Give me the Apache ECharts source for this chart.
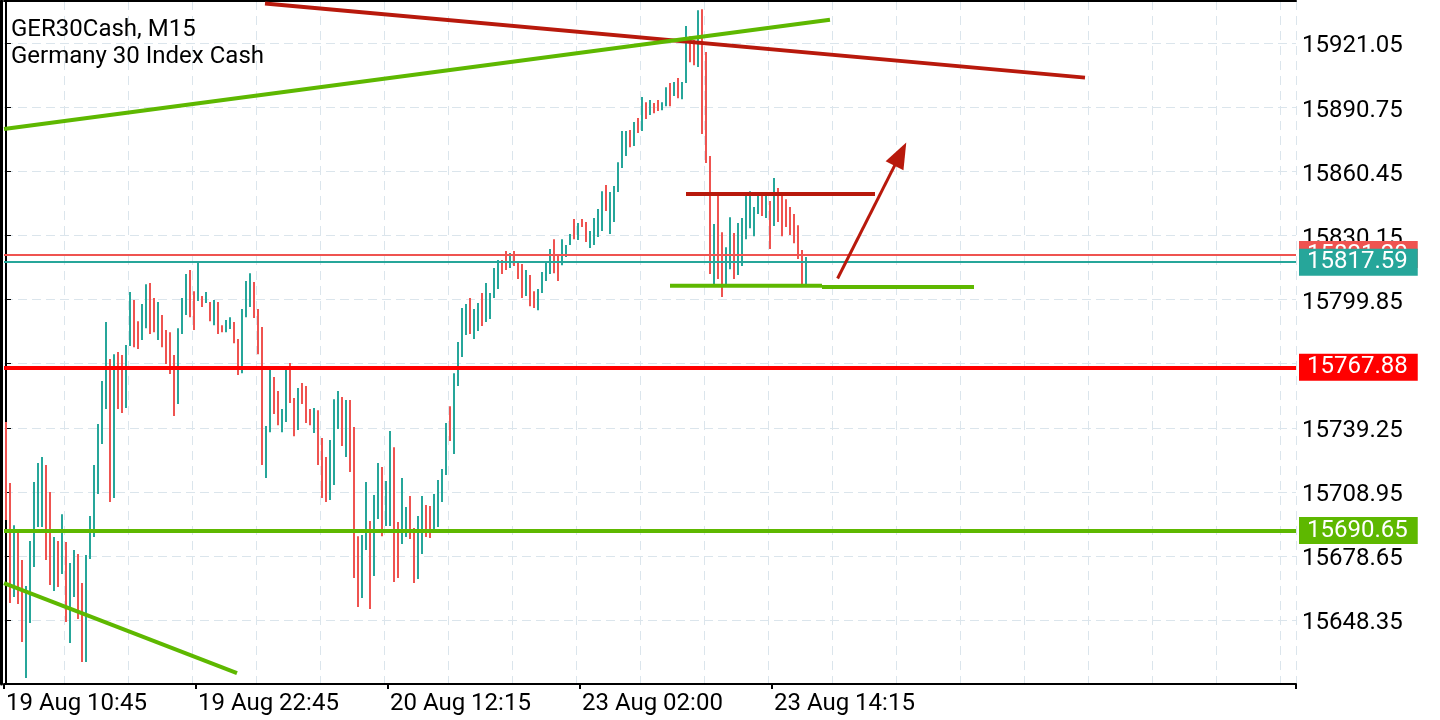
<!DOCTYPE html>
<html><head><meta charset="utf-8">
<script src="https://cdn.jsdelivr.net/npm/echarts@6/dist/echarts.min.js"></script>
<style>html,body{margin:0;padding:0;background:#fff}#c{width:1440px;height:720px}</style>
</head><body><div id="c"></div>
<script>
const symbolName = 'GER30Cash, M15';
const symbolDesc = 'Germany 30 Index Cash';
const xTickLabels = ['19 Aug 10:45', '19 Aug 22:45', '20 Aug 12:15', '23 Aug 02:00', '23 Aug 14:15'];
const barsPerLabel = 48;
const slotCount = 323;

const highs = [15742.0,15713.1,15693.2,15689.9,15676.7,15664.4,15685.7,15713.6,15722.6,15725.4,
15721.6,15708.9,15687.6,15685.7,15698.4,15685.2,15675.3,15681.4,15679.5,15665.8,
15679.1,15697.5,15721.6,15741.0,15761.4,15789.3,15771.8,15774.1,15775.1,15773.7,
15778.4,15803.5,15799.7,15789.7,15797.8,15807.2,15807.7,15800.6,15798.7,15792.6,
15785.5,15784.5,15773.7,15786.4,15800.6,15812.0,15813.9,15803.9,15817.2,15801.6,
15803.5,15798.7,15799.7,15798.7,15787.8,15790.2,15791.6,15789.3,15781.2,15795.4,
15808.7,15812.4,15808.2,15795.4,15786.9,15740.1,15767.0,15763.3,15756.6,15748.1,
15767.0,15769.9,15753.3,15758.1,15760.4,15759.0,15748.1,15748.6,15747.6,15734.4,
15725.4,15733.5,15752.8,15756.6,15753.8,15752.4,15752.4,15739.6,15688.0,15688.5,
15713.6,15695.1,15707.4,15722.6,15720.7,15714.1,15737.7,15730.1,15694.7,15715.5,
15701.8,15707.0,15691.8,15697.5,15707.0,15702.7,15702.2,15707.9,15714.5,15719.7,
15741.5,15749.5,15765.1,15779.8,15795.9,15797.8,15800.6,15795.4,15798.3,15803.0,
15807.7,15803.0,15814.8,15818.6,15818.6,15822.9,15821.9,15822.9,15817.6,15816.7,
15813.9,15811.5,15803.9,15804.9,15812.9,15817.2,15823.8,15828.5,15821.0,15828.5,
15825.7,15830.9,15838.0,15836.1,15838.0,15836.6,15832.3,15838.5,15842.7,15851.2,
15854.1,15850.8,15853.6,15864.9,15879.6,15879.6,15880.1,15883.9,15885.8,15895.7,
15893.3,15894.3,15892.9,15894.3,15893.3,15900.4,15902.3,15902.8,15904.7,15902.8,
15929.3,15924.5,15922.7,15936.8,15937.3,15917.0,15867.8,15835.6,15848.9,15831.8,
15824.7,15838.9,15831.4,15836.1,15838.5,15848.9,15851.2,15843.7,15848.9,15849.3,
15849.3,15846.5,15857.4,15852.7,15848.9,15847.4,15843.7,15840.4,15835.1,15823.3,
15820.0];

const lows = [15695.6,15656.4,15659.2,15655.9,15637.9,15620.9,15646.9,15673.4,15692.3,15692.3,
15676.7,15664.9,15662.0,15663.9,15670.1,15647.4,15637.4,15659.2,15648.8,15628.4,
15628.4,15677.2,15687.6,15707.9,15731.6,15748.1,15704.1,15706.0,15748.1,15746.2,
15748.6,15777.9,15777.4,15776.5,15780.8,15786.4,15783.6,15784.5,15780.8,15777.4,
15769.4,15764.7,15744.8,15750.5,15783.6,15792.6,15791.6,15785.5,15799.2,15796.4,
15798.3,15789.7,15787.8,15783.6,15784.5,15784.5,15786.0,15779.3,15764.2,15765.1,
15791.6,15796.4,15791.2,15774.1,15721.6,15715.5,15737.2,15745.8,15740.5,15737.2,
15742.0,15751.0,15735.3,15738.2,15750.5,15741.5,15740.5,15736.8,15721.6,15706.0,
15704.1,15705.1,15712.2,15738.7,15730.6,15725.4,15718.3,15668.2,15654.5,15658.7,
15681.4,15653.5,15669.1,15696.1,15688.0,15692.8,15692.8,15666.3,15668.2,15684.3,
15687.6,15686.6,15665.8,15667.7,15679.5,15687.6,15687.1,15690.4,15692.3,15704.1,
15716.9,15733.0,15726.8,15759.0,15772.7,15783.1,15783.6,15781.2,15785.0,15787.4,
15789.3,15790.7,15800.6,15804.9,15812.0,15813.9,15814.8,15815.8,15809.6,15800.6,
15801.6,15796.8,15795.9,15794.9,15803.0,15808.7,15812.0,15812.4,15808.7,15816.2,
15820.0,15825.7,15828.5,15828.1,15834.2,15827.1,15824.3,15825.7,15829.5,15832.3,
15841.8,15830.9,15836.6,15850.8,15862.1,15867.8,15872.0,15872.5,15878.7,15879.6,
15885.3,15887.2,15888.1,15889.1,15889.5,15891.4,15891.4,15896.2,15895.2,15894.7,
15902.3,15912.2,15910.8,15909.9,15878.2,15864.5,15812.0,15807.2,15809.6,15801.1,
15807.2,15814.3,15809.6,15811.5,15815.8,15828.5,15833.7,15829.9,15840.4,15839.4,
15838.5,15823.8,15834.7,15836.6,15829.9,15834.2,15830.4,15826.6,15819.1,15806.8,
15806.8];

const isUp = [0,0,1,0,0,1,1,1,1,1, 0,0,1,0,1,0,1,1,0,0, 1,1,1,1,1,1,0,1,0,0,
1,1,0,0,1,1,0,0,1,0, 0,0,0,1,1,1,0,0,1,0, 1,0,1,0,0,1,1,0,0,1,
1,1,0,0,0,1,1,0,0,1, 1,0,0,1,0,0,0,1,0,0, 0,1,1,1,0,1,0,0,0,1,
1,0,1,1,0,1,1,0,0,1, 1,0,0,1,1,0,0,1,1,1, 1,0,1,1,1,1,0,1,1,0,
1,1,1,1,0,0,1,0,0,0, 1,0,0,1,1,1,1,0,0,1, 1,1,0,1,0,0,1,1,1,1,
0,1,1,1,1,1,0,1,0,1, 0,1,0,0,1,1,0,1,0,1, 1,0,0,1,0,0,0,1,0,0,
1,1,0,1,1,1,1,1,1,0, 1,0,1,0,0,0,0,0,0,0, 1];

const yMin = 15618.05, yMax = 15941.15, yStep = 30.3;
const askPrice = 15821.20, bidPrice = 15817.59;
const resistanceLevel = 15767.88, supportLevel = 15690.65;

// trendlines: [bar index, price]
const trendRed = [[64.75, 15940.0], [269.75, 15904.9]];
const trendGreenUpper = [[-0.5, 15880.6], [206, 15932.3]];
const trendGreenLower = [[-0.5, 15665.8], [57.75, 15623.2]];
const rangeTop = [[170, 15849.8], [217.25, 15849.8]];
const rangeBottomA = [[166, 15806.4], [204, 15806.4]];
const rangeBottomB = [[204, 15805.9], [242, 15805.9]];
const arrowFrom = [207.9, 15809.9];
const arrowTo = [223.6, 15868.7];

const UP = '#26a69a', DOWN = '#ef5350', GREEN = '#5eb800', DARKRED = '#b8190c';
const FONT = 'Roboto';

const categories = Array.from({length: slotCount}, (_, i) => String(i));
const barData = highs.map((h, i) => [i, h, lows[i], isUp[i]]);

function seg(pts, color, width) {
  return {type: 'line', xAxisIndex: 1, yAxisIndex: 0, data: pts, symbol: 'none', silent: true, z: 4,
    lineStyle: {color: color, width: width}, animation: false};
}
function lvl(v, color, width) {
  return {yAxis: v, lineStyle: {color: color, width: width, type: 'solid'}, label: {backgroundColor: color}};
}
const tickShown = (i) => i % barsPerLabel === 0 && i / barsPerLabel < xTickLabels.length;

const chart = echarts.init(document.getElementById('c'), null, {renderer: 'canvas'});
chart.setOption({
  animation: false,
  backgroundColor: '#fff',
  title: {
    text: symbolName, subtext: symbolDesc, left: 6, top: 12, itemGap: 1,
    textStyle: {fontFamily: FONT, fontSize: 24, fontWeight: 'normal', color: '#000', lineHeight: 26},
    subtextStyle: {fontFamily: FONT, fontSize: 24, color: '#000', lineHeight: 26}
  },
  grid: {left: 4, right: 144, top: 1, bottom: 36, containLabel: false},
  xAxis: [{
    type: 'category', data: categories, boundaryGap: true, position: 'bottom',
    axisLine: {show: true, lineStyle: {color: '#000', width: 2}},
    axisTick: {show: true, length: 5, lineStyle: {color: '#000', width: 2}, interval: tickShown},
    axisLabel: {show: true, interval: tickShown, align: 'left', margin: 8,
      fontFamily: FONT, fontSize: 24, color: '#000',
      formatter: (v, i) => xTickLabels[Math.round(i / barsPerLabel)] || ''},
    splitLine: {show: true, interval: (i) => i % 16 === 15, lineStyle: {color: '#dbe5ec', width: 1, type: [9, 6]}}
  }, {
    type: 'value', min: -0.5, max: slotCount - 0.5, position: 'top',
    axisLine: {show: true, onZero: false, lineStyle: {color: '#000', width: 2}},
    axisTick: {show: false}, axisLabel: {show: false}, splitLine: {show: false}
  }],
  yAxis: [{
    type: 'value', position: 'right', min: yMin, max: yMax, interval: yStep, scale: true,
    axisLine: {show: true, lineStyle: {color: '#000', width: 2}},
    axisTick: {show: true, length: 5, lineStyle: {color: '#000', width: 1}},
    axisLabel: {show: true, margin: 6, fontFamily: FONT, fontSize: 24, color: '#000',
      verticalAlign: 'top', lineHeight: 6,
      showMinLabel: false, showMaxLabel: false,
      formatter: (v) => (yMin + Math.round((v - yMin) / yStep) * yStep).toFixed(2)},
    splitLine: {show: true, lineStyle: {color: '#dbe5ec', width: 1, type: [9, 5]}}
  }, {
    type: 'value', position: 'left', min: yMin, max: yMax, offset: 3,
    axisLine: {show: true, onZero: false, lineStyle: {color: '#000', width: 3}},
    axisTick: {show: false}, axisLabel: {show: false}, splitLine: {show: false}
  }],
  series: [
    {
      type: 'custom', xAxisIndex: 0, yAxisIndex: 0, data: barData, clip: false, z: 2,
      encode: {x: 0, y: [1, 2]},
      renderItem: (params, api) => {
        const top = api.coord([api.value(0), api.value(1)]);
        const bot = api.coord([api.value(0), api.value(2)]);
        return {type: 'rect',
          shape: {x: Math.round(top[0]) - 1, y: top[1], width: 2, height: Math.max(1, bot[1] - top[1])},
          style: {fill: api.value(3) ? UP : DOWN}};
      },
      markLine: {
        silent: true, symbol: ['none', 'none'], animation: false, precision: 2,
        label: {show: true, position: 'end', distance: 3, color: '#fff', fontFamily: FONT, fontSize: 24,
          lineHeight: 24, padding: [2, 10, 1, 8], formatter: (p) => Number(p.value).toFixed(2)},
        data: [
          lvl(askPrice, DOWN, 2),
          lvl(bidPrice, UP, 2),
          lvl(resistanceLevel, '#ff0000', 4),
          lvl(supportLevel, GREEN, 4)
        ]
      }
    },
    seg(trendRed, DARKRED, 4),
    seg(trendGreenUpper, GREEN, 4),
    seg(trendGreenLower, GREEN, 4),
    seg(rangeBottomA, GREEN, 4),
    seg(rangeBottomB, GREEN, 4),
    Object.assign(seg(rangeTop, DARKRED, 4), {
      clip: false,
      markLine: {
        silent: true, animation: false, symbol: ['none', 'triangle'], symbolSize: [20, 26],
        label: {show: false},
        lineStyle: {color: DARKRED, width: 3, type: 'solid'},
        data: [[{coord: arrowFrom}, {coord: arrowTo}]]
      }
    })
  ]
});
</script></body></html>
